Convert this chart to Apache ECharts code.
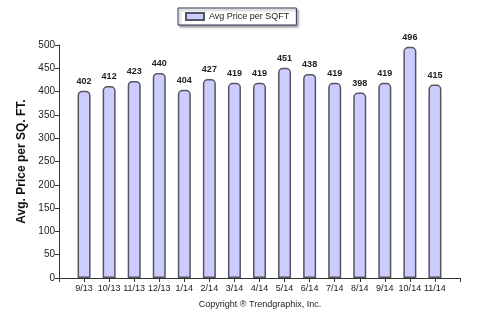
<!DOCTYPE html>
<html>
<head>
<meta charset="utf-8">
<script src="https://cdn.jsdelivr.net/npm/echarts@6/dist/echarts.min.js"></script>
<style>
  html, body { margin: 0; padding: 0; background: #fff; }
  #chart { width: 477px; height: 330px; }
</style>
</head>
<body>
<div id="chart"></div>
<script>
// Monthly average price per square foot
const months = ['9/13', '10/13', '11/13', '12/13', '1/14', '2/14', '3/14', '4/14',
                '5/14', '6/14', '7/14', '8/14', '9/14', '10/14', '11/14'];
const avgPrice = [402, 412, 423, 440, 404, 427, 419, 419, 451, 438, 419, 398, 419, 496, 415];
const yTicks = [0, 50, 100, 150, 200, 250, 300, 350, 400, 450, 500];

const FONT = '"Liberation Sans", Arial, sans-serif';
const chart = echarts.init(document.getElementById('chart'), null, { renderer: 'canvas' });

// x positions are month indices; the axis runs one slot past each end
const points = avgPrice.map((v, i) => [i, v]);

chart.setOption({
  animation: false,
  backgroundColor: '#ffffff',
  legend: {
    top: 8,
    left: 178,
    padding: [4, 7, 4, 7],
    itemWidth: 18,
    itemHeight: 7,
    itemGap: 5,
    backgroundColor: '#ffffff',
    borderColor: '#2a3550',
    borderWidth: 1,
    shadowColor: 'rgba(0,0,0,0.35)',
    shadowBlur: 2,
    shadowOffsetX: 2,
    shadowOffsetY: 2,
    textStyle: { fontFamily: FONT, fontSize: 9, color: '#222' },
    data: [{ name: 'Avg Price per SQFT', icon: 'rect' }]
  },
  grid: { left: 59, right: 17, top: 45, bottom: 52 },
  xAxis: {
    type: 'value',
    min: -1,
    max: months.length,
    interval: 1,
    splitLine: { show: false },
    axisLine: { onZero: false, lineStyle: { color: '#333', width: 1 } },
    axisTick: { show: true, length: 4, lineStyle: { color: '#333' } },
    axisLabel: {
      fontFamily: FONT, fontSize: 9, color: '#222', margin: 6,
      formatter: v => (v >= 0 && v < months.length) ? months[v] : ''
    }
  },
  yAxis: {
    type: 'value',
    min: yTicks[0],
    max: yTicks[yTicks.length - 1],
    interval: 50,
    name: 'Avg. Price per SQ. FT.',
    nameLocation: 'middle',
    nameGap: 29,
    nameTextStyle: { fontFamily: FONT, fontSize: 12, fontWeight: 'bold', color: '#111' },
    splitLine: { show: false },
    axisLine: { show: true, onZero: false, lineStyle: { color: '#333', width: 1 } },
    axisTick: { show: true, length: 4, lineStyle: { color: '#333' } },
    axisLabel: { fontFamily: FONT, fontSize: 10, color: '#222', margin: 4 }
  },
  series: [{
    name: 'Avg Price per SQFT',
    type: 'bar',
    data: points,
    barWidth: 13,
    itemStyle: {
      color: '#ccccff',
      borderColor: '#555560',
      borderWidth: 1.5,
      borderRadius: [4, 4, 0, 0]
    },
    label: {
      show: true,
      position: 'top',
      distance: 5,
      fontFamily: FONT,
      fontSize: 9,
      fontWeight: 'bold',
      color: '#222',
      formatter: p => p.value[1]
    }
  }],
  graphic: [{
    type: 'text',
    x: 260,
    y: 300,
    style: {
      text: 'Copyright \u00AE Trendgraphix, Inc.',
      font: '9px ' + FONT,
      fill: '#222',
      align: 'center'
    }
  }]
});
</script>
</body>
</html>
